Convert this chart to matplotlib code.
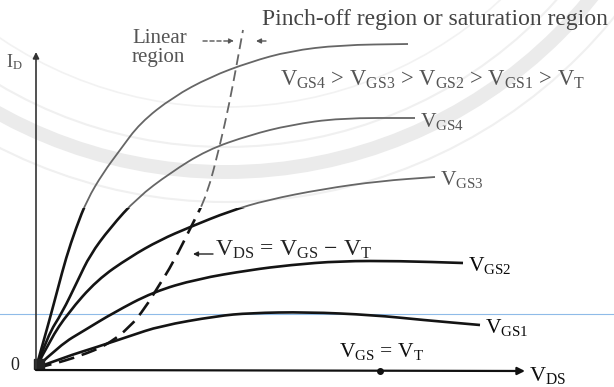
import matplotlib
matplotlib.use("Agg")
import matplotlib.pyplot as plt
import numpy as np
from matplotlib.path import Path
from matplotlib.patches import Circle, PathPatch, Rectangle

plt.rcParams['font.family'] = ['Liberation Serif', 'DejaVu Serif']
plt.rcParams['mathtext.fontset'] = 'custom'
plt.rcParams['mathtext.rm'] = 'Liberation Serif'
plt.rcParams['mathtext.it'] = 'Liberation Serif:italic'

# drain characteristics, V_DS and I_D in arbitrary units
vds_gs5 = [0, 0.7, 1.4, 2.2, 3.0, 4.0, 5.1, 6.7, 8.4, 10.4, 13.7, 17.4, 21.4, 25.4, 30.4, 37.2]
id_gs5 = [0, 2.5, 5.0, 8.0, 11.0, 14.0, 16.8, 19.5, 21.8, 24.5, 27.1, 29.1, 30.6, 31.7, 32.3, 32.4]

vds_gs4 = [0, 1.2, 2.6, 4.2, 5.4, 7.4, 10.1, 13.4, 17.1, 21.4, 25.4, 30.4, 37.9]
id_gs4 = [0, 3.3, 5.5, 8.8, 11.3, 14.0, 17.0, 19.5, 21.8, 23.3, 24.3, 25.0, 25.0]

vds_gs3 = [0, 1.4, 3.2, 6.1, 9.4, 12.4, 15.4, 19.4, 23.1, 28.7, 34.4, 39.9]
id_gs3 = [0, 2.8, 5.5, 8.8, 11.1, 12.8, 14.1, 15.7, 16.8, 17.9, 18.7, 19.1]

vds_gs2 = [0, 2.4, 4.9, 7.7, 11.7, 16.1, 21.4, 25.4, 30.4, 36.4, 42.7]
id_gs2 = [0, 2.3, 3.8, 5.5, 7.6, 8.9, 9.8, 10.3, 10.7, 10.7, 10.5]

vds_gs1 = [0, 2.9, 6.1, 9.4, 12.4, 18.1, 21.4, 27.1, 33.7, 38.7, 44.4]
id_gs1 = [0, 1.1, 2.1, 3.2, 4.2, 5.2, 5.5, 5.6, 5.3, 4.8, 4.3]

# V_DS = V_GS - V_T boundary
vds_sat = [0, 1.4, 4.4, 7.1, 9.4, 10.9, 12.2, 13.7, 15.7, 17.1, 18.4, 19.3, 20.1, 20.7]
id_sat = [0, 0.3, 1.2, 2.3, 4.1, 6.0, 8.1, 10.5, 14.5, 17.3, 22.3, 26.3, 30.5, 33.8]

curves = [(vds_gs5, id_gs5), (vds_gs4, id_gs4), (vds_gs3, id_gs3),
          (vds_gs2, id_gs2), (vds_gs1, id_gs1)]
curve_labels = [None, r'V$_{\mathrm{GS4}}$', r'V$_{\mathrm{GS3}}$',
                r'V$_{\mathrm{GS2}}$', r'V$_{\mathrm{GS1}}$']

fig = plt.figure(figsize=(6.14, 3.87), dpi=100)

# background layer in pixel units: faded seal and the stray scanner line
bg = fig.add_axes([0, 0, 1, 1])
bg.set_xlim(0, 614)
bg.set_ylim(387, 0)
bg.axis('off')
for r, w, c in [(470, 10, '#ebebeb'), (445, 1.5, '#f0f0f0'),
                (500, 1.5, '#f0f0f0'), (405, 1.2, '#f2f2f2')]:
    bg.add_patch(Circle((226, -298), r, fill=False, ec=c, lw=w))
bg.axhline(314, color='#8fbbe8', lw=0.8)

ax = fig.add_axes([0, 0, 1, 1])
ax.patch.set_alpha(0)
ax.set_xlim(-3.6, 57.8)
ax.set_ylim(-1.9, 36.8)
ax.axis('off')

FADE = 16  # above this the print is lighter and thinner


def smooth_path(x, y):
    p = np.column_stack([x, y]).astype(float)
    verts = [p[0]]
    codes = [Path.MOVETO]
    for i in range(1, len(p) - 1):
        verts += [p[i], (p[i] + p[i + 1]) / 2]
        codes += [Path.CURVE3, Path.CURVE3]
    verts.append(p[-1])
    codes.append(Path.LINETO)
    return Path(verts, codes)


def faded_line(x, y, ls='solid'):
    path = smooth_path(x, y)
    for lo, hi, col, lw in [(-5, FADE, '#141414', 1.9), (FADE, 50, '#666666', 1.3)]:
        clip = Rectangle((-10, lo), 80, hi - lo, transform=ax.transData)
        pp = PathPatch(path, fill=False, ec=col, lw=lw, ls=ls,
                       capstyle='butt', joinstyle='round')
        ax.add_patch(pp)
        pp.set_clip_path(clip)


for (x, y), lab in zip(curves, curve_labels):
    faded_line(x, y)
    if lab:
        col = '#555555' if y[-1] > FADE else '#0a0a0a'
        ax.text(x[-1] + 0.5, y[-1] - 0.3, lab, fontsize=15.5, color=col,
                ha='left', va='center')

faded_line(vds_sat, id_sat, ls=(0, (6, 3)))

# axes with arrows
ax.annotate('', xy=(0, 31.6), xytext=(0, -0.2),
            arrowprops=dict(arrowstyle='-|>', color='#333333', lw=1.2,
                            mutation_scale=9, shrinkA=0, shrinkB=0))
ax.annotate('', xy=(48.9, -0.3), xytext=(0, -0.2),
            arrowprops=dict(arrowstyle='-|>', color='#111111', lw=1.6,
                            mutation_scale=11, shrinkA=0, shrinkB=0))
ax.plot([34.4], [-0.3], 'o', color='#111111', ms=4)
ax.plot([0.3], [0.4], 's', color='#222222', ms=7)

ax.text(-2.2, 30.6, r'I$_{\mathrm{D}}$', fontsize=13, color='#555555',
        ha='center', va='center')
ax.text(-2.1, 0.2, '0', fontsize=13, color='#222222', ha='center', va='center')
ax.text(49.3, -0.7, r'V$_{\mathrm{DS}}$', fontsize=16, color='#111111',
        ha='left', va='center')
ax.text(34.5, 1.6, r'V$_{\mathrm{GS}}$ = V$_{\mathrm{T}}$', fontsize=15.5,
        color='#111111', ha='center', va='center')

ax.text(9.6, 32.0, 'Linear\nregion', fontsize=15, color='#555555',
        ha='left', va='center', linespacing=0.95)
ax.annotate('', xy=(19.8, 32.7), xytext=(16.7, 32.7),
            arrowprops=dict(arrowstyle='-|>', color='#555555', lw=1,
                            ls=(0, (3, 2)), mutation_scale=7,
                            shrinkA=0, shrinkB=0))
ax.annotate('', xy=(22.0, 32.7), xytext=(23.0, 32.7),
            arrowprops=dict(arrowstyle='-|>', color='#555555', lw=1,
                            mutation_scale=7, shrinkA=0, shrinkB=0))
ax.text(22.6, 34.8, 'Pinch-off region or saturation region', fontsize=17,
        color='#444444', ha='left', va='center')
ax.text(24.4, 28.8,
        r'V$_{\mathrm{GS4}}$ > V$_{\mathrm{GS3}}$ > V$_{\mathrm{GS2}}$ > '
        r'V$_{\mathrm{GS1}}$ > V$_{\mathrm{T}}$',
        fontsize=16.3, color='#555555', ha='left', va='center')

ax.annotate('', xy=(15.7, 11.4), xytext=(17.7, 11.4),
            arrowprops=dict(arrowstyle='-|>', color='#222222', lw=1,
                            mutation_scale=7, shrinkA=0, shrinkB=0))
ax.text(17.9, 11.8, r'V$_{\mathrm{DS}}$ = V$_{\mathrm{GS}}$ $-$ V$_{\mathrm{T}}$',
        fontsize=17, color='#222222', ha='left', va='center')

fig.savefig('out.png', dpi=100)
